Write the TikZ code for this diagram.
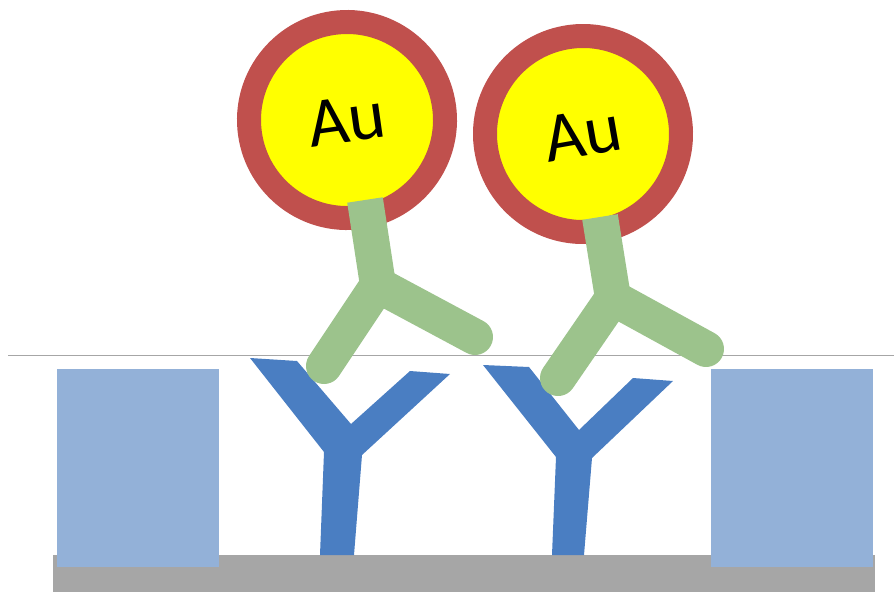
\documentclass[tikz,border=0pt]{standalone}
\usepackage{fontspec}
\setmainfont{Carlito}
\definecolor{ringred}{HTML}{C0504D}
\definecolor{goldcore}{HTML}{FFFF00}
\definecolor{abgreen}{HTML}{9CC38C}
\definecolor{abblue}{HTML}{4A7EC2}
\definecolor{wellblue}{HTML}{93B1D8}
\definecolor{basegray}{HTML}{A6A6A6}
\begin{document}
\begin{tikzpicture}[x=1pt,y=-1pt,
  particle/.style={circle, draw=ringred, line width=24pt, fill=goldcore, minimum size=196pt, inner sep=0pt,
    font=\fontsize{70}{70}\selectfont, text=black},
  wall/.style={fill=wellblue, draw=none},
  capture/.style={fill=abblue, draw=none},
  detstem/.style={draw=abgreen, line width=36pt, line cap=butt},
  detarm/.style={draw=abgreen, line width=36pt, line cap=round},
  surface/.style={draw=black!35, line width=0.8pt}]
\useasboundingbox (0,0) rectangle (894,592);

% substrate and side walls
\fill[basegray] (53,555) rectangle (875,592);
\fill[wall] (57,369) rectangle (219,567);
\fill[wall] (711,369) rectangle (873,567);

% surface line
\draw[surface] (8,355) -- (894,355);

% immobilised capture antibodies
\fill[capture] (250,358) -- (297,361) -- (351,424) -- (410,371) -- (450,374)
  -- (362,455) -- (354,555) -- (320,555) -- (324,452) -- cycle;
\fill[capture] (483,365) -- (529,367) -- (579,430) -- (633,378) -- (673,381)
  -- (592,458) -- (584,555) -- (552,555) -- (556,457) -- cycle;

% gold nanoparticles, each labelled
\node[particle, rotate=8] (p1) at (347,120) {Au};
\node[particle, rotate=10] (p2) at (583,134) {Au};

% detection antibodies, stems over the particle rims
\coordinate (s1) at (365,200);
\coordinate (j1) at (378,285);
\draw[detstem] (s1) -- (j1);
\draw[detarm] (j1) -- (324,366);
\draw[detarm] (j1) -- (475,337);

\coordinate (s2) at (600,217);
\coordinate (j2) at (613,298);
\draw[detstem] (s2) -- (j2);
\draw[detarm] (j2) -- (558,378);
\draw[detarm] (j2) -- (706,349);
\end{tikzpicture}
\end{document}
